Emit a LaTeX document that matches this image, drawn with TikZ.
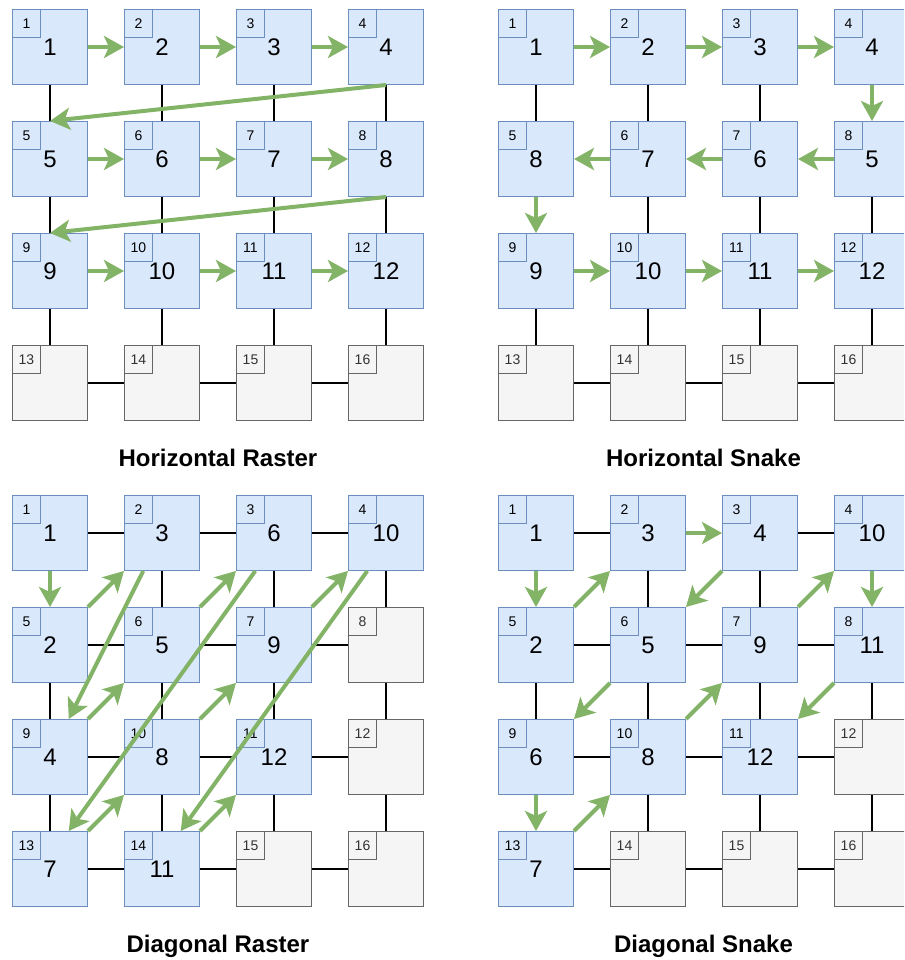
\documentclass[tikz,border=0pt]{standalone}
\usepackage{fontspec}
\setmainfont{Liberation Sans}
\usepackage{xcolor}
\usepackage{tikz}
\usetikzlibrary{positioning,arrows.meta}

\definecolor{cellfill}{HTML}{DAE8FC}
\definecolor{cellline}{HTML}{6C8EBF}
\definecolor{idlefill}{HTML}{F5F5F5}
\definecolor{idleline}{HTML}{666666}
\definecolor{idletext}{HTML}{333333}
\definecolor{flowgreen}{HTML}{82B366}

\begin{document}
\begin{tikzpicture}[x=1pt,y=-1pt,
  cell/.style={draw=cellline,fill=cellfill,line width=1pt,minimum size=75pt,inner sep=0pt,font=\fontsize{24}{28}\selectfont},
  idle/.style={draw=idleline,fill=idlefill,text=idletext,line width=1pt,minimum size=75pt,inner sep=0pt,font=\fontsize{24}{28}\selectfont},
  tag/.style={fill=none,minimum size=28pt,anchor=north west,font=\fontsize{14}{16}\selectfont},
  link/.style={line width=2pt,black},
  flow/.style={line width=4pt,flowgreen,-{Stealth[length=20pt,width=22pt,inset=5pt]}},
  title/.style={anchor=base,font=\fontsize{24}{28}\selectfont\bfseries}]
  \useasboundingbox (0,0) rectangle (904,960);
  \clip (0,0) rectangle (904,960);

  % horizontal raster (top left)
  \foreach \v/\s [count=\n] in {1/cell,2/cell,3/cell,4/cell,5/cell,6/cell,7/cell,8/cell,9/cell,10/cell,11/cell,12/cell,{}/idle,{}/idle,{}/idle,{}/idle} {
    \node[\s] (hr\n) at ({50+112*mod(\n-1,4)},{47+112*int((\n-1)/4)}) {\v};
    \node[\s,tag] (hrt\n) at (hr\n.north west) {\n};
  }
  \foreach \a/\b in {1/5,2/6,3/7,4/8,5/9,6/10,7/11,8/12,9/13,10/14,11/15,12/16,13/14,14/15,15/16}
    \draw[link] (hr\a) -- (hr\b);
  \foreach \a/\b in {1/2,2/3,3/4,5/6,6/7,7/8,9/10,10/11,11/12}
    \draw[flow] (hr\a) -- (hr\b);
  \draw[flow] (hr4.south) -- (hr5.north);
  \draw[flow] (hr8.south) -- (hr9.north);
  \node[title] (hrtitle) at (218,466.5) {Horizontal Raster};

  % horizontal snake (top right)
  \foreach \v/\s [count=\n] in {1/cell,2/cell,3/cell,4/cell,8/cell,7/cell,6/cell,5/cell,9/cell,10/cell,11/cell,12/cell,{}/idle,{}/idle,{}/idle,{}/idle} {
    \node[\s] (hs\n) at ({536+112*mod(\n-1,4)},{47+112*int((\n-1)/4)}) {\v};
    \node[\s,tag] (hst\n) at (hs\n.north west) {\n};
  }
  \foreach \a/\b in {1/5,2/6,3/7,6/10,7/11,8/12,9/13,10/14,11/15,12/16,13/14,14/15,15/16}
    \draw[link] (hs\a) -- (hs\b);
  \foreach \a/\b in {1/2,2/3,3/4,4/8,8/7,7/6,6/5,5/9,9/10,10/11,11/12}
    \draw[flow] (hs\a) -- (hs\b);
  \node[title] (hstitle) at (703.5,466.5) {Horizontal Snake};

  % diagonal raster (bottom left)
  \foreach \v/\s [count=\n] in {1/cell,3/cell,6/cell,10/cell,2/cell,5/cell,9/cell,{}/idle,4/cell,8/cell,12/cell,{}/idle,7/cell,11/cell,{}/idle,{}/idle} {
    \node[\s] (dr\n) at ({50+112*mod(\n-1,4)},{533+112*int((\n-1)/4)}) {\v};
    \node[\s,tag] (drt\n) at (dr\n.north west) {\n};
  }
  \foreach \a/\b in {1/2,2/3,3/4,5/6,6/7,7/8,9/10,10/11,11/12,13/14,14/15,15/16,5/9,9/13,2/6,6/10,10/14,3/7,7/11,11/15,4/8,8/12,12/16}
    \draw[link] (dr\a) -- (dr\b);
  \draw[flow] (dr1) -- (dr5);
  \foreach \a/\b in {5/2,9/6,6/3,13/10,10/7,7/4,14/11}
    \draw[flow] (dr\a.north east) -- (dr\b.south west);
  \foreach \a/\b in {2/9,3/13,4/14}
    \draw[flow] ([xshift=-18.75pt]dr\a.south) -- ([xshift=18.75pt]dr\b.north);
  \node[title] (drtitle) at (218,952) {Diagonal Raster};

  % diagonal snake (bottom right)
  \foreach \v/\s [count=\n] in {1/cell,3/cell,4/cell,10/cell,2/cell,5/cell,9/cell,11/cell,6/cell,8/cell,12/cell,{}/idle,7/cell,{}/idle,{}/idle,{}/idle} {
    \node[\s] (ds\n) at ({536+112*mod(\n-1,4)},{533+112*int((\n-1)/4)}) {\v};
    \node[\s,tag] (dst\n) at (ds\n.north west) {\n};
  }
  \foreach \a/\b in {1/2,3/4,5/6,6/7,7/8,9/10,10/11,11/12,13/14,14/15,15/16,5/9,2/6,6/10,10/14,3/7,7/11,11/15,8/12,12/16}
    \draw[link] (ds\a) -- (ds\b);
  \foreach \a/\b in {1/5,2/3,9/13,4/8}
    \draw[flow] (ds\a) -- (ds\b);
  \foreach \a/\b in {5/2,13/10,10/7,7/4}
    \draw[flow] (ds\a.north east) -- (ds\b.south west);
  \foreach \a/\b in {3/6,6/9,8/11}
    \draw[flow] (ds\a.south west) -- (ds\b.north east);
  \node[title] (dstitle) at (703.5,952) {Diagonal Snake};
\end{tikzpicture}
\end{document}
